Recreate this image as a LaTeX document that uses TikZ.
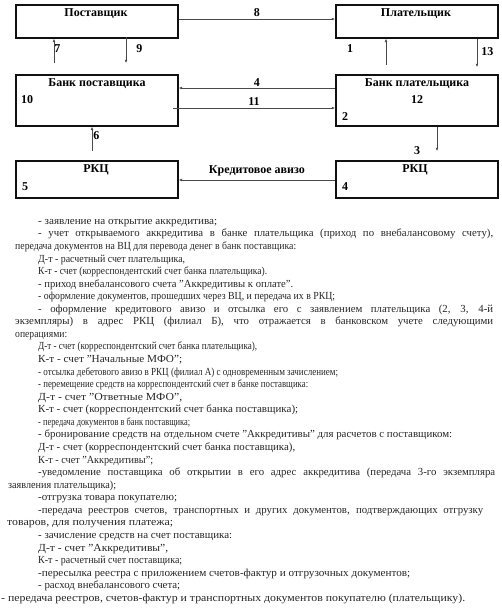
\documentclass[tikz,border=0pt]{standalone}
\usepackage{fontspec}
\usepackage{graphicx}
\setmainfont{Liberation Serif}
\usetikzlibrary{arrows.meta,positioning,calc}
\definecolor{inkline}{HTML}{111111}
\definecolor{arrcol}{HTML}{4A4A4A}
\definecolor{bodytxt}{HTML}{262626}
% one printed line: start x, width, text
\newsavebox{\lnbox}
\newcommand{\lnfit}[3]{\sbox{\lnbox}{#3}\pgfmathsetmacro{\lnscale}{#2pt/\the\wd\lnbox}%
  \hspace*{#1pt}\scalebox{\lnscale}[1]{\usebox{\lnbox}}\par}
\newcommand{\lnjust}[3]{\hspace*{#1pt}\makebox[#2pt][s]{#3}\par}

\begin{document}
\begin{tikzpicture}[x=1pt,y=-1pt,
  font=\fontsize{12}{14}\selectfont,
  >={Latex[length=3.2pt,width=2.8pt]},
  box/.style={draw=inkline, line width=1.8pt, inner sep=0pt, anchor=north west, minimum width=162pt},
  ttlnode/.style={font=\fontsize{12}{14}\selectfont\bfseries, inner sep=0pt},
  num/.style={font=\fontsize{12}{14}\selectfont\bfseries, inner sep=0pt},
  arr/.style={->, draw=arrcol, line width=0.6pt},
  body/.style={anchor=north west, inner sep=0pt, text=bodytxt, font=\fontsize{10.8}{12.57}\selectfont},
]
\useasboundingbox (0,0) rectangle (502,611);

% ---- top row ----
\node[box, minimum height=33pt] (sup) at (15,4) {};
\node[box, minimum height=33pt] (pay) at (335,4) {};
\node[ttlnode] (supT) at (96,14) {Поставщик};
\node[ttlnode] (payT) at (416,14) {Плательщик};

% ---- bank row ----
\node[box, minimum height=51pt] (bsup) at (15,74) {};
\node[box, minimum height=51pt] (bpay) at (335,74) {};
\node[ttlnode] (bsupT) at (97,84) {Банк поставщика};
\node[ttlnode] (bpayT) at (417,84) {Банк плательщика};
\node[num] (n10) at (27,100) {10};
\node[num] (n12) at (417,100) {12};
\node[num] (n2)  at (345,117) {2};

% ---- РКЦ row ----
\node[box, minimum height=37pt] (rkcA) at (15,160) {};
\node[box, minimum height=37pt] (rkcB) at (335,160) {};
\node[ttlnode] (rkcAT) at (96,170) {РКЦ};
\node[ttlnode] (rkcBT) at (415,170) {РКЦ};
\node[num] (n5) at (25,187) {5};
\node[num] (n4) at (345,187) {4};

% ---- arrows ----
\draw[arr] (sup.east |- 0,19) -- (pay.west |- 0,19) node[num, midway, above=2pt] {8};
\coordinate (a7) at (54,63);
\draw[arr] (a7) -- (a7 |- sup.south) node[num, pos=0.6, right=0pt] {7};
\coordinate (a9) at (126,37);
\draw[arr] (a9) -- (126,63) node[num, pos=0.45, right=10pt] {9};
\coordinate (a1) at (386,65);
\draw[arr] (a1) -- (a1 |- pay.south);
\node[num] (n1) at (350,49) {1};
\coordinate (a13) at (477,67);
\draw[arr] (a13 |- pay.south) -- (a13) node[num, pos=0.45, right=4pt] {13};

\draw[arr] (bpay.west |- 0,88) -- (bsup.east |- 0,88) node[num, midway, above=1pt] {4};
\coordinate (a11) at (173,108);
\draw[arr] (a11) -- (a11 -| bpay.west) node[num, midway, above=2pt] {11};
\coordinate (a6) at (92,151);
\draw[arr] (a6) -- (a6 |- bsup.south) node[num, pos=0.65, right=1pt] {6};
\coordinate (a3) at (437,151);
\draw[arr] (a3 |- bpay.south) -- (a3);
\node[num] (n3) at (417,151) {3};
\draw[arr] (rkcB.west |- 0,180) -- (rkcA.east |- 0,180) node[ttlnode, midway, above=4pt] {Кредитовое авизо};

% ---- описание операций ----
\node[body] (txt) at (0,219) {\parbox[t]{502pt}{\parindent=0pt\parskip=0pt
\lnfit{38}{179}{- заявление на открытие аккредитива;}
\lnjust{38}{455}{- учет открываемого аккредитива в банке плательщика (приход по внебалансовому счету),}
\lnfit{15}{281}{передача документов на ВЦ для перевода денег в банк поставщика:}
\lnfit{38}{147}{Д-т - расчетный счет плательщика,}
\lnfit{38}{229}{К-т - счет (корреспондентский счет банка плательщика).}
\lnfit{38}{255}{- приход внебалансового счета "Аккредитивы к оплате".}
\lnfit{38}{297}{- оформление документов, прошедших через ВЦ, и передача их в РКЦ;}
\lnjust{38}{455}{- оформление кредитового авизо и отсылка его с заявлением плательщика (2, 3, 4-й}
\lnjust{15}{478}{экземпляры) в адрес РКЦ (филиал Б), что отражается в банковском учете следующими}
\lnfit{15}{52}{операциями:}
\lnfit{38}{219}{Д-т - счет (корреспондентский счет банка плательщика),}
\lnfit{38}{144}{К-т - счет "Начальные МФО";}
\lnfit{38}{300}{- отсылка дебетового авизо в РКЦ (филиал А) с одновременным зачислением;}
\lnfit{38}{270}{- перемещение средств на корреспондентский счет в банке поставщика:}
\lnfit{38}{144}{Д-т - счет "Ответные МФО",}
\lnfit{38}{260}{К-т - счет (корреспондентский счет банка поставщика);}
\lnfit{38}{152}{- передача документов в банк поставщика;}
\lnfit{38}{414}{- бронирование средств на отдельном счете "Аккредитивы" для расчетов с поставщиком:}
\lnfit{38}{257}{Д-т - счет (корреспондентский счет банка поставщика),}
\lnfit{38}{115}{К-т - счет "Аккредитивы";}
\lnjust{38}{457}{-уведомление поставщика об открытии в его адрес аккредитива (передача 3-го экземпляра}
\lnfit{8}{108}{заявления плательщика);}
\lnfit{38}{139}{-отгрузка товара покупателю;}
\lnjust{38}{445}{-передача реестров счетов, транспортных и других документов, подтверждающих отгрузку}
\lnfit{7}{166}{товаров, для получения платежа;}
\lnfit{38}{194}{- зачисление средств на счет поставщика:}
\lnfit{38}{130}{Д-т - счет "Аккредитивы",}
\lnfit{38}{144}{К-т - расчетный счет поставщика;}
\lnfit{38}{372}{-пересылка реестра с приложением счетов-фактур и отгрузочных документов;}
\lnfit{38}{142}{- расход внебалансового счета;}
\lnfit{1}{464}{- передача реестров, счетов-фактур и транспортных документов покупателю (плательщику).}
}};

\end{tikzpicture}
\end{document}
